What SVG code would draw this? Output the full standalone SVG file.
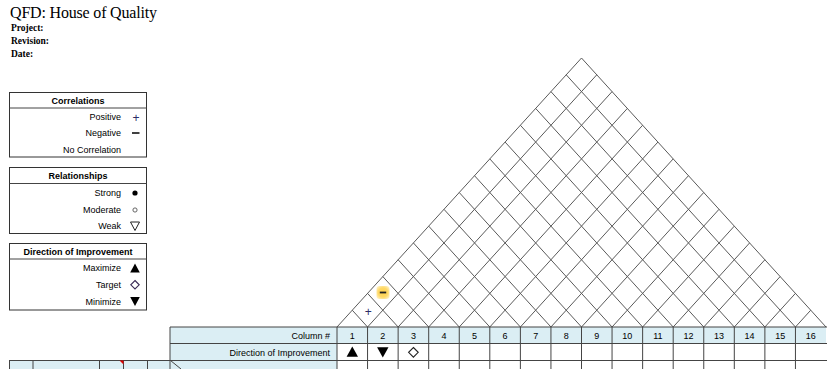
<svg xmlns="http://www.w3.org/2000/svg" width="827" height="369" viewBox="0 0 827 369">
<style>
.t{font-family:"Liberation Sans",Arial,sans-serif;font-size:9px;fill:#000}
.r{text-anchor:end}
.c{text-anchor:middle}
.h{font-weight:bold;text-anchor:middle}
.box{fill:#fff;stroke:#333;stroke-width:1}
.g{stroke:#5a5a5a;stroke-width:1;fill:none}
.tb{stroke:#444;stroke-width:1;fill:none}
.lb{fill:#dbeef4}
</style>
<defs>
<radialGradient id="hl" cx="0.5" cy="0.5" r="0.6">
<stop offset="0" stop-color="#ffd24d"/>
<stop offset="0.6" stop-color="#ffd966"/>
<stop offset="1" stop-color="#fff0c0"/>
</radialGradient>
</defs>
<rect width="827" height="369" fill="#fff"/>

<g id="header">
<text x="10" y="18" font-family="'Liberation Serif','Times New Roman',serif" font-size="16" textLength="147" fill="#000">QFD: House of Quality</text>
<text x="11" y="30.5" font-family="'Liberation Serif','Times New Roman',serif" font-size="9.5" font-weight="bold" fill="#000">Project:</text>
<text x="11" y="44" font-family="'Liberation Serif','Times New Roman',serif" font-size="9.5" font-weight="bold" fill="#000">Revision:</text>
<text x="11" y="57" font-family="'Liberation Serif','Times New Roman',serif" font-size="9.5" font-weight="bold" fill="#000">Date:</text>
</g>

<g id="legend-correlations">
<rect class="box" x="9.5" y="92.5" width="137" height="64.5"/>
<line class="tb" x1="9.5" y1="108" x2="146.5" y2="108"/>
<text class="t h" x="78" y="103.5">Correlations</text>
<text class="t r" x="121" y="120">Positive</text>
<text x="136" y="121.5" font-family="'Liberation Sans',Arial,sans-serif" font-size="12" fill="#2b2b66" text-anchor="middle">+</text>
<text class="t r" x="121" y="136">Negative</text>
<line x1="132" y1="133" x2="139.5" y2="133" stroke="#111" stroke-width="1.6"/>
<text class="t r" x="121" y="153">No Correlation</text>
</g>

<g id="legend-relationships">
<rect class="box" x="9.5" y="167.5" width="137" height="66"/>
<line class="tb" x1="9.5" y1="183.5" x2="146.5" y2="183.5"/>
<text class="t h" x="78" y="179">Relationships</text>
<text class="t r" x="121" y="195.5">Strong</text>
<circle cx="135" cy="193" r="2.6" fill="#000"/>
<text class="t r" x="121" y="212.5">Moderate</text>
<circle cx="135" cy="210" r="2.1" fill="#fff" stroke="#555" stroke-width="0.9"/>
<text class="t r" x="121" y="229">Weak</text>
<polygon points="130.5,222 139.5,222 135,230.5" fill="#fff" stroke="#222" stroke-width="1"/>
</g>

<g id="legend-direction">
<rect class="box" x="9.5" y="243.5" width="137" height="66.5"/>
<line class="tb" x1="9.5" y1="259" x2="146.5" y2="259"/>
<text class="t h" x="78" y="255">Direction of Improvement</text>
<text class="t r" x="121" y="271">Maximize</text>
<polygon points="135,263.5 139.8,272.5 130.2,272.5" fill="#000"/>
<text class="t r" x="121" y="288">Target</text>
<polygon points="135,280.5 139.2,284.8 135,289 130.8,284.8" fill="#fff" stroke="#3a2a55" stroke-width="1.1"/>
<text class="t r" x="121" y="304.5">Minimize</text>
<polygon points="130.2,297 139.8,297 135,306" fill="#000"/>
</g>

<g id="roof">
<g class="g">
<line x1="337" y1="327" x2="581.5" y2="58"/>
<line x1="367.56" y1="327" x2="596.78" y2="74.81"/>
<line x1="398.13" y1="327" x2="612.06" y2="91.63"/>
<line x1="428.69" y1="327" x2="627.34" y2="108.44"/>
<line x1="459.25" y1="327" x2="642.63" y2="125.25"/>
<line x1="489.81" y1="327" x2="657.91" y2="142.06"/>
<line x1="520.38" y1="327" x2="673.19" y2="158.88"/>
<line x1="550.94" y1="327" x2="688.47" y2="175.69"/>
<line x1="581.5" y1="327" x2="703.75" y2="192.5"/>
<line x1="612.06" y1="327" x2="719.03" y2="209.31"/>
<line x1="642.63" y1="327" x2="734.31" y2="226.13"/>
<line x1="673.19" y1="327" x2="749.59" y2="242.94"/>
<line x1="703.75" y1="327" x2="764.88" y2="259.75"/>
<line x1="734.31" y1="327" x2="780.16" y2="276.56"/>
<line x1="764.88" y1="327" x2="795.44" y2="293.38"/>
<line x1="795.44" y1="327" x2="810.72" y2="310.19"/>
<line x1="367.56" y1="327" x2="352.28" y2="310.19"/>
<line x1="398.13" y1="327" x2="367.56" y2="293.38"/>
<line x1="428.69" y1="327" x2="382.84" y2="276.56"/>
<line x1="459.25" y1="327" x2="398.13" y2="259.75"/>
<line x1="489.81" y1="327" x2="413.41" y2="242.94"/>
<line x1="520.38" y1="327" x2="428.69" y2="226.13"/>
<line x1="550.94" y1="327" x2="443.97" y2="209.31"/>
<line x1="581.5" y1="327" x2="459.25" y2="192.5"/>
<line x1="612.06" y1="327" x2="474.53" y2="175.69"/>
<line x1="642.63" y1="327" x2="489.81" y2="158.88"/>
<line x1="673.19" y1="327" x2="505.09" y2="142.06"/>
<line x1="703.75" y1="327" x2="520.38" y2="125.25"/>
<line x1="734.31" y1="327" x2="535.66" y2="108.44"/>
<line x1="764.88" y1="327" x2="550.94" y2="91.63"/>
<line x1="795.44" y1="327" x2="566.22" y2="74.81"/>
<line x1="826" y1="327" x2="581.5" y2="58"/>
</g>
<text x="368.3" y="315.5" font-family="'Liberation Sans',Arial,sans-serif" font-size="12" fill="#2b2b66" text-anchor="middle">+</text>
<rect x="376.5" y="286" width="13" height="13" rx="3" fill="url(#hl)"/>
<line x1="379.8" y1="292.5" x2="386.2" y2="292.5" stroke="#222" stroke-width="1.8"/>
</g>

<g id="table">
<rect class="lb" x="170" y="327" width="656" height="16.5"/>
<rect class="lb" x="170" y="343.5" width="167" height="17"/>
<rect class="lb" x="9" y="360.5" width="328" height="9"/>
<g class="tb">
<line x1="170" y1="327" x2="827" y2="327"/>
<line x1="170" y1="343.5" x2="827" y2="343.5"/>
<line x1="9" y1="360.5" x2="827" y2="360.5"/>
<line x1="170" y1="327" x2="170" y2="369"/>
<line x1="9.5" y1="360.5" x2="9.5" y2="369"/>
<line x1="33" y1="360.5" x2="33" y2="369"/>
<line x1="99.5" y1="360.5" x2="99.5" y2="369"/>
<line x1="123.5" y1="360.5" x2="123.5" y2="369"/>
<line x1="147.5" y1="360.5" x2="147.5" y2="369"/>
<line x1="170.5" y1="360.5" x2="181" y2="369"/>
<line x1="337" y1="327" x2="337" y2="369"/>
<line x1="367.56" y1="327" x2="367.56" y2="369"/>
<line x1="398.13" y1="327" x2="398.13" y2="369"/>
<line x1="428.69" y1="327" x2="428.69" y2="369"/>
<line x1="459.25" y1="327" x2="459.25" y2="369"/>
<line x1="489.81" y1="327" x2="489.81" y2="369"/>
<line x1="520.38" y1="327" x2="520.38" y2="369"/>
<line x1="550.94" y1="327" x2="550.94" y2="369"/>
<line x1="581.5" y1="327" x2="581.5" y2="369"/>
<line x1="612.06" y1="327" x2="612.06" y2="369"/>
<line x1="642.63" y1="327" x2="642.63" y2="369"/>
<line x1="673.19" y1="327" x2="673.19" y2="369"/>
<line x1="703.75" y1="327" x2="703.75" y2="369"/>
<line x1="734.31" y1="327" x2="734.31" y2="369"/>
<line x1="764.88" y1="327" x2="764.88" y2="369"/>
<line x1="795.44" y1="327" x2="795.44" y2="369"/>
</g>
<polygon points="119.5,360.5 123.5,360.5 123.5,364.5" fill="#e00000"/>
<text class="t r" x="330" y="338.5">Column #</text>
<text class="t r" x="330" y="355.5">Direction of Improvement</text>
<g class="t c">
<text x="352.3" y="338.5">1</text>
<text x="382.8" y="338.5">2</text>
<text x="413.4" y="338.5">3</text>
<text x="444" y="338.5">4</text>
<text x="474.5" y="338.5">5</text>
<text x="505.1" y="338.5">6</text>
<text x="535.7" y="338.5">7</text>
<text x="566.2" y="338.5">8</text>
<text x="596.8" y="338.5">9</text>
<text x="627.3" y="338.5">10</text>
<text x="657.9" y="338.5">11</text>
<text x="688.5" y="338.5">12</text>
<text x="719" y="338.5">13</text>
<text x="749.6" y="338.5">14</text>
<text x="780.2" y="338.5">15</text>
<text x="810.7" y="338.5">16</text>
</g>
<polygon points="352.3,346.5 358,356.8 346.6,356.8" fill="#000"/>
<polygon points="377.1,347.3 388.5,347.3 382.8,357.5" fill="#000"/>
<polygon points="413.4,347.5 418.2,352.3 413.4,357.1 408.6,352.3" fill="#fff" stroke="#222" stroke-width="1.1"/>
</g>
</svg>
